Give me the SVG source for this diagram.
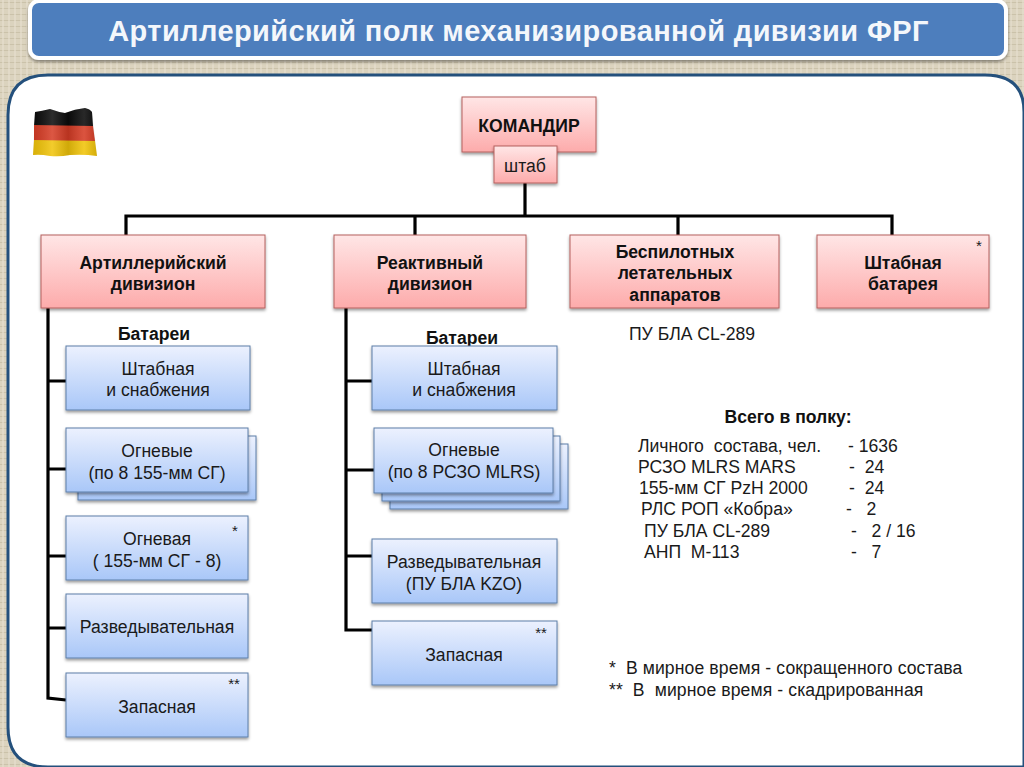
<svg xmlns="http://www.w3.org/2000/svg" width="1024" height="767" viewBox="0 0 1024 767">
<defs>
<linearGradient id="r" x1="0" y1="0" x2="0" y2="1"><stop offset="0" stop-color="#ffe6e6"/><stop offset="1" stop-color="#fdabab"/></linearGradient>
<linearGradient id="b" x1="0" y1="0" x2="0" y2="1"><stop offset="0" stop-color="#ecf1fe"/><stop offset="1" stop-color="#a9c7f8"/></linearGradient>
<linearGradient id="fl" x1="0" y1="0" x2="1" y2="0"><stop offset="0" stop-color="#000" stop-opacity=".1"/><stop offset=".3" stop-color="#fff" stop-opacity=".14"/><stop offset=".55" stop-color="#000" stop-opacity=".14"/><stop offset=".8" stop-color="#fff" stop-opacity=".12"/><stop offset="1" stop-color="#000" stop-opacity=".12"/></linearGradient>
<pattern id="linen" width="12" height="12" patternUnits="userSpaceOnUse"><rect width="12" height="12" fill="#dbd3be"/><path d="M0 2.5H12M0 8.5H12" stroke="#cbc2aa" stroke-width="1.2"/><path d="M3 0V12M9 0V12" stroke="#e7e0cf" stroke-width="1.2"/></pattern>
<filter id="s" x="-10%" y="-10%" width="120%" height="125%"><feDropShadow dx="0" dy="2" stdDeviation="1.5" flood-color="#000" flood-opacity=".4"/></filter>
</defs>
<style>
text{font-family:"Liberation Sans",Arial,sans-serif;fill:#1a1a1a;text-anchor:middle;font-size:17.6px;white-space:pre;transform:translateY(.8px)}
.h{font-weight:bold;fill:#111}
.l{text-anchor:start}
.st{font-size:15px}
.n{letter-spacing:.1px}
.rb{fill:url(#r);stroke:#b5605f;stroke-width:1;filter:url(#s)}
.bb{fill:url(#b);stroke:#5d7fa8;stroke-width:1;filter:url(#s)}
.c{fill:none;stroke:#000;stroke-width:3.2}
</style>
<rect width="1024" height="767" fill="url(#linen)"/>
<rect x="30" y="1" width="976" height="57" rx="9" fill="#4d7ebd" stroke="#fff" stroke-width="4" filter="url(#s)"/>
<text x="518.500" y="41" style="font-size:29px;font-weight:bold;fill:#f4f7fb;letter-spacing:.4px;transform:none">Артиллерийский полк механизированной дивизии ФРГ</text>
<path d="M48 75H985Q1024 75 1024 112V767H48Q8 767 8 727V115Q8 75 48 75Z" fill="#fff" stroke="#24507c" stroke-width="3"/>
<g id="flag"><path d="M35 112Q42 111 50 109Q58 112 65 113Q75 109 85 108Q90 109 92 112L93 126H34Z" fill="#0b0b0b"/><path d="M34 125L93 126L95 141H34Z" fill="#d63c25"/><path d="M34 140L95 141L97 156Q84 154 70 155Q60 157 50 156Q40 154 33 155Z" fill="#f1c40a"/><path d="M35 112Q42 111 50 109Q58 112 65 113Q75 109 85 108Q90 109 92 112L97 156Q84 154 70 155Q60 157 50 156Q40 154 33 155Z" fill="url(#fl)"/></g>
<g id="connectors">
<path class="c" d="M525 182V215M126 235V216H892V235M415 216V235M678 216V235"/>
<path class="c" d="M48 308V698L66 700M48 381H66M48 469H66M48 556H66M48 628H66"/>
<path class="c" d="M346 308V630H372M346 381H372M346 470H374M346 556H372"/>
</g>
<g id="commander"><rect class="rb" x="462" y="97" width="134" height="55"/><text class="h" x="529" y="131">КОМАНДИР</text></g>
<g id="staff"><rect class="rb" x="494" y="146" width="63" height="37"/><text x="525" y="171">штаб</text></g>
<g id="div1"><rect class="rb" x="41" y="235" width="224" height="73"/><text class="h" x="153" y="268">Артиллерийский</text><text class="h" x="153" y="289">дивизион</text></g>
<g id="div2"><rect class="rb" x="334" y="235" width="192" height="73"/><text class="h" x="430" y="268">Реактивный</text><text class="h" x="430" y="289">дивизион</text></g>
<g id="div3"><rect class="rb" x="570" y="235" width="209" height="73"/><text class="h" x="675" y="257">Беспилотных</text><text class="h" x="675" y="278">летательных</text><text class="h" x="675" y="300">аппаратов</text></g>
<g id="div4"><rect class="rb" x="817" y="235" width="172" height="73"/><text class="h" x="903" y="268">Штабная</text><text class="h" x="903" y="289">батарея</text><text class="st" x="979" y="250">*</text></g>
<text class="h" x="154" y="339">Батареи</text>
<text class="h" x="462" y="343">Батареи</text>
<text x="692" y="339">ПУ БЛА CL-289</text>
<g id="a1"><rect class="bb" x="66" y="346" width="184" height="64"/><text x="158" y="374">Штабная</text><text x="158" y="395">и снабжения</text></g>
<g id="a2"><rect class="bb" x="78" y="436" width="178" height="64"/><rect class="bb" x="66" y="428" width="182" height="64"/><text x="157" y="456">Огневые</text><text x="157" y="478">(по 8 155-мм СГ)</text></g>
<g id="a3"><rect class="bb" x="66" y="516" width="182" height="64"/><text x="157" y="544">Огневая</text><text x="157" y="566">( 155-мм СГ - 8)</text><text class="st" x="235" y="535">*</text></g>
<g id="a4"><rect class="bb" x="66" y="594" width="182" height="64"/><text x="157" y="632">Разведывательная</text></g>
<g id="a5"><rect class="bb" x="66" y="673" width="182" height="64"/><text x="157" y="712">Запасная</text><text class="st" x="234" y="688">**</text></g>
<g id="b1"><rect class="bb" x="372" y="346" width="185" height="64"/><text x="464" y="374">Штабная</text><text x="464" y="395">и снабжения</text></g>
<g id="b2"><rect class="bb" x="390" y="444" width="178" height="65"/><rect class="bb" x="382" y="436" width="178" height="65"/><rect class="bb" x="374" y="428" width="179" height="65"/><text x="464" y="455">Огневые</text><text x="464" y="477">(по 8 РСЗО MLRS)</text></g>
<g id="b3"><rect class="bb" x="372" y="539" width="185" height="64"/><text x="464" y="567">Разведывательная</text><text x="464" y="589">(ПУ БЛА KZO)</text></g>
<g id="b4"><rect class="bb" x="372" y="621" width="185" height="64"/><text x="464" y="660">Запасная</text><text class="st" x="541" y="637">**</text></g>
<g id="totals">
<text class="h" x="788" y="422">Всего в полку:</text>
<text class="l" x="638" y="451">Личного  состава, чел.</text><text class="l" x="848" y="451">- 1636</text>
<text class="l" x="638" y="472">РСЗО MLRS MARS</text><text class="l" x="849" y="472">-  24</text>
<text class="l" x="639" y="493">155-мм СГ PzH 2000</text><text class="l" x="849" y="493">-  24</text>
<text class="l" x="641" y="514">РЛС РОП «Кобра»</text><text class="l" x="846" y="514">-   2</text>
<text class="l" x="644" y="536">ПУ БЛА CL-289</text><text class="l" x="851" y="536">-   2 / 16</text>
<text class="l" x="644" y="557">АНП  М-113</text><text class="l" x="851" y="557">-   7</text>
</g>
<g id="notes">
<text class="l n" x="609" y="673">*  В мирное время - сокращенного состава</text>
<text class="l n" x="609" y="695">**  В  мирное время - скадрированная</text>
</g>
</svg>
